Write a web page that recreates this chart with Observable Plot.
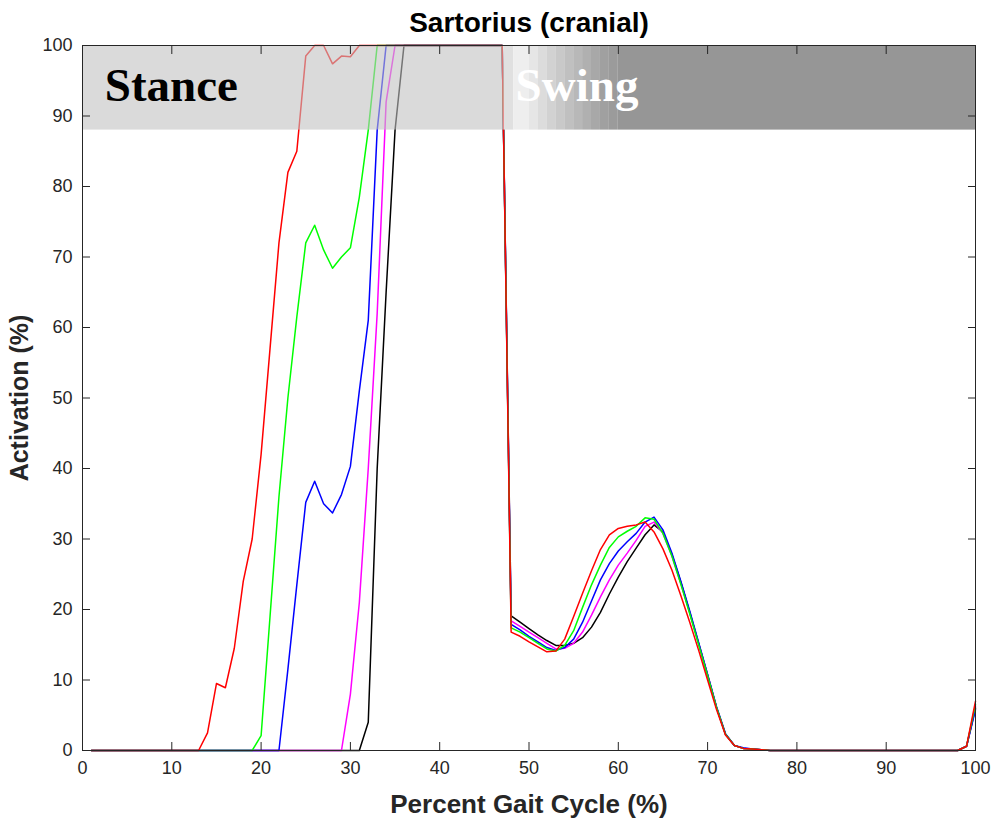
<!DOCTYPE html>
<html><head><meta charset="utf-8">
<script src="https://cdn.jsdelivr.net/npm/d3@7"></script>
<script src="https://cdn.jsdelivr.net/npm/@observablehq/plot@0.6"></script>
<style>body{margin:0;background:#fff;} #chart svg{display:block;overflow:visible}</style>
</head><body><div id="chart"></div>
<script>
const chartTitle = "Sartorius (cranial)";
const xAxisLabel = "Percent Gait Cycle (%)";
const yAxisLabel = "Activation (%)";
const xTicks = [0,10,20,30,40,50,60,70,80,90,100];
const yTicks = [0,10,20,30,40,50,60,70,80,90,100];

const gaitPercent = [1,2,3,4,5,6,7,8,9,10,11,12,13,14,15,16,17,18,19,20,
  21,22,23,24,25,26,27,28,29,30,31,32,33,34,35,36,37,38,39,40,
  41,42,43,44,45,46,47,48,49,50,51,52,53,54,55,56,57,58,59,60,
  61,62,63,64,65,66,67,68,69,70,71,72,73,74,75,76,77,78,79,80,
  81,82,83,84,85,86,87,88,89,90,91,92,93,94,95,96,97,98,99,100];

const seriesBlack = [0,0,0,0,0,0,0,0,0,0, 0,0,0,0,0,0,0,0,0,0, 0,0,0,0,0,0,0,0,0,0, 0,
  4,40,65,88,
  100,100,100,100,100,100,100,100,100,100, 100,100,
  19.1,18.2,17.3,16.4,15.6,14.9,14.9,15.2,16.0,17.5,19.6,22.2,24.6,26.8,28.7,30.6,32.0,31.0,27.8,23.9,19.6,15.2,10.7,6.1,2.3,0.7,0.3,0.2,0.1,
  0,0,0,0,0,0,0,0,0,0, 0,0,0,0,0,0,0,0,0,0, 0,0,
  0.6,6.0];
const seriesMagenta = [0,0,0,0,0,0,0,0,0,0, 0,0,0,0,0,0,0,0,0,0, 0,0,0,0,0,0,0,0,0,
  8,21,40,62,92,
  100,100,100,100,100,100,100,100,100,100, 100,100,100,
  18.4,17.6,16.8,16.0,15.2,14.4,14.5,15.2,16.8,19.2,21.8,24.2,26.3,28.0,29.8,31.8,32.4,30.8,27.6,23.7,19.5,15.1,10.7,6.1,2.3,0.7,0.3,0.2,0.1,
  0,0,0,0,0,0,0,0,0,0, 0,0,0,0,0,0,0,0,0,0, 0,0,
  0.6,6.2];
const seriesBlue = [0,0,0,0,0,0,0,0,0,0, 0,0,0,0,0,0,0,0,0,0, 0,0,
  11.5,23.5,35.2,38.2,35,33.7,36.3,40.3,51,61,88,
  100,100,100,100,100,100,100,100,100,100, 100,100,100,100,
  17.9,17.1,16.2,15.4,14.6,14.2,14.6,15.8,18.2,21.2,24.2,26.5,28.3,29.6,30.8,32.4,33.1,31.3,28.0,24.0,19.8,15.3,10.8,6.2,2.4,0.7,0.4,0.2,0.1,
  0,0,0,0,0,0,0,0,0,0, 0,0,0,0,0,0,0,0,0,0, 0,0,
  0.6,5.8];
const seriesGreen = [0,0,0,0,0,0,0,0,0,0, 0,0,0,0,0,0,0,0,0,
  2.1,19,36,50,61.5,72,74.5,71,68.4,70,71.3,78.5,88,
  100,100,100,100,100,100,100,100,100,100, 100,100,100,100,100,
  17.4,16.8,16.0,15.2,14.4,14.1,14.9,17.0,20.3,23.5,26.3,28.8,30.3,31.1,31.8,33.0,32.8,30.8,27.6,23.6,19.4,15.0,10.6,6.1,2.3,0.7,0.3,0.2,0.1,
  0,0,0,0,0,0,0,0,0,0, 0,0,0,0,0,0,0,0,0,0, 0,0,
  0.6,6.5];
const seriesRed = [0,0,0,0,0,0,0,0,0,0, 0,0,0,
  2.5,9.5,8.9,14.5,24,30,42,57,72,82,85,98.5,100,100,97.4,98.5,98.4,
  100,100,100,100,100,100,100,100,100,100, 100,100,100,100,100,100,100,
  16.8,16.2,15.4,14.7,14.0,14.1,15.8,19.0,22.3,25.5,28.5,30.6,31.5,31.8,32.0,32.4,31.0,28.6,25.6,22.0,18.2,14.2,10.0,5.8,2.2,0.7,0.3,0.2,0.1,
  0,0,0,0,0,0,0,0,0,0, 0,0,0,0,0,0,0,0,0,0, 0,0,
  0.6,7.0];

const seriesNames = ["black","magenta","blue","green","red"];
const seriesValues = [seriesBlack, seriesMagenta, seriesBlue, seriesGreen, seriesRed];
const seriesColors = ["#000000","#ff00ff","#0000ff","#00ff00","#ff0000"];

// phase band
const bandRange = [88, 100];
const stanceRange = [0, 47.2];
const swingStops = [47.2, 48.3, 50, 51, 52, 53, 54, 55, 56, 57, 58, 59, 60, 100];
const swingShades = ["#e0e0e0","#eeeeee","#e6e6e6","#dcdcdc","#d2d2d2","#c9c9c9","#c0c0c0","#b8b8b8","#b0b0b0","#a8a8a8","#a0a0a0","#9b9b9b","#969696"];
const phaseLabels = ["Stance","Swing"];
const phaseLabelX = [2.5, 48.5];
const phaseLabelY = [94.2, 94.2];
const phaseLabelColors = ["#000000","#ffffff"];

const lineMarks = seriesValues.map((vals, si) =>
  Plot.line(vals.map((v, i) => ({x: gaitPercent[i], y: v})), {x: "x", y: "y", stroke: seriesColors[si], strokeWidth: 1.5})
);
const swingStrips = swingShades.map((c, i) => ({x1: swingStops[i], x2: swingStops[i+1], c}));
const phases = phaseLabels.map((t, i) => ({t, x: phaseLabelX[i], y: phaseLabelY[i], c: phaseLabelColors[i]}));

const chart = Plot.plot({
  width: 991, height: 819,
  marginTop: 45, marginBottom: 69, marginLeft: 82, marginRight: 16,
  x: {domain: [0, 100]},
  y: {domain: [0, 100]},
  style: {fontFamily: "'Liberation Sans', Arial, Helvetica, sans-serif", background: "white", color: "#262626"},
  marks: [
    ...lineMarks,
    Plot.rect([stanceRange], {x1: d => d[0], x2: d => d[1], y1: bandRange[0], y2: bandRange[1], fill: "#c2c2c2", fillOpacity: 0.6}),
    Plot.rect(swingStrips, {x1: "x1", x2: "x2", y1: bandRange[0], y2: bandRange[1], fill: d => d.c}),
    Plot.text(phases, {x: "x", y: "y", text: "t", fill: d => d.c, textAnchor: "start", lineAnchor: "middle", fontFamily: "'Liberation Serif', 'Times New Roman', serif", fontWeight: "bold", fontSize: 47}),
    Plot.frame({stroke: "#262626", strokeWidth: 1}),
    Plot.axisX(xTicks, {anchor: "bottom", tickSize: 0, tickPadding: 11, fontSize: 18, fill: "#262626", label: null}),
    Plot.axisX(xTicks, {anchor: "bottom", tickSize: -8, tickFormat: () => "", stroke: "#262626", label: null}),
    Plot.axisX(xTicks, {anchor: "top", tickSize: -8, tickFormat: () => "", stroke: "#262626", label: null}),
    Plot.axisY(yTicks, {anchor: "left", tickSize: 0, tickPadding: 10, fontSize: 18, fill: "#262626", label: null}),
    Plot.axisY(yTicks, {anchor: "left", tickSize: -8, tickFormat: () => "", stroke: "#262626", label: null}),
    Plot.axisY(yTicks, {anchor: "right", tickSize: -8, tickFormat: () => "", stroke: "#262626", label: null}),
    Plot.text([chartTitle], {text: d => d, frameAnchor: "top", dy: -22, textAnchor: "middle", lineAnchor: "middle", fontSize: 28, fontWeight: "bold", fill: "#000"}),
    Plot.text([xAxisLabel], {text: d => d, frameAnchor: "bottom", dy: 54, textAnchor: "middle", lineAnchor: "middle", fontSize: 26, fontWeight: "bold", fill: "#262626"}),
    Plot.text([yAxisLabel], {text: d => d, frameAnchor: "left", dx: -63, rotate: -90, textAnchor: "middle", lineAnchor: "middle", fontSize: 25, fontWeight: "bold", fill: "#262626"})
  ]
});
document.getElementById("chart").appendChild(chart);
</script>
</body></html>
